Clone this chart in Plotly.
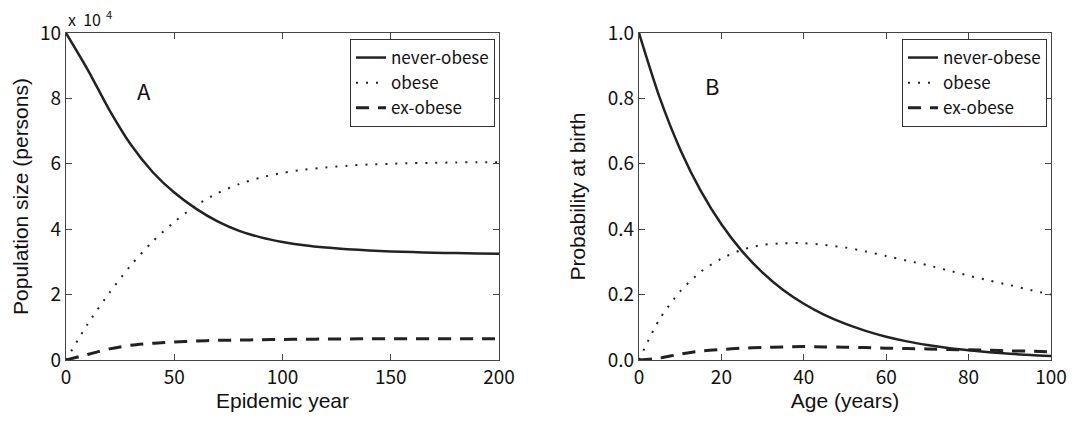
import plotly.graph_objects as go

# Panel A: population by obesity status over the epidemic (units of 10^4 persons)
epidemic_year = [0, 10, 20, 30, 40, 50, 60, 70, 80, 90, 100,
                 110, 120, 130, 140, 150, 160, 170, 180, 190, 200]
never_obese_pop = [10.0, 8.88, 7.65, 6.58, 5.75, 5.12, 4.63, 4.24, 3.95, 3.75, 3.61,
                   3.51, 3.44, 3.39, 3.35, 3.32, 3.3, 3.28, 3.27, 3.26, 3.25]
obese_pop = [0.0, 1.1, 2.05, 2.9, 3.62, 4.22, 4.72, 5.1, 5.38, 5.58, 5.72,
             5.82, 5.89, 5.94, 5.98, 6.0, 6.02, 6.03, 6.04, 6.05, 6.05]
ex_obese_pop = [0.0, 0.17, 0.34, 0.45, 0.51, 0.55, 0.58, 0.6, 0.61, 0.62, 0.63,
                0.635, 0.64, 0.645, 0.65, 0.65, 0.65, 0.65, 0.65, 0.65, 0.65]

# Panel B: probability of each status by age, at birth
age = [0, 5, 10, 15, 20, 25, 30, 35, 40, 45, 50, 55, 60, 65, 70, 75, 80, 85, 90, 95, 100]
never_obese_prob = [1.0, 0.803, 0.644, 0.517, 0.415, 0.333, 0.267, 0.214, 0.172, 0.138,
                    0.111, 0.089, 0.071, 0.057, 0.046, 0.037, 0.030, 0.024, 0.019,
                    0.015, 0.012]
obese_prob = [0.0, 0.125, 0.21, 0.27, 0.31, 0.337, 0.352, 0.357, 0.357, 0.352, 0.344,
              0.332, 0.318, 0.304, 0.29, 0.274, 0.258, 0.243, 0.229, 0.214, 0.2]
ex_obese_prob = [0.0, 0.006, 0.018, 0.027, 0.032, 0.036, 0.038, 0.04, 0.041, 0.04,
                 0.039, 0.038, 0.036, 0.035, 0.034, 0.032, 0.031, 0.03, 0.028, 0.027,
                 0.025]

series_names = ["never-obese", "obese", "ex-obese"]

INK = "#222222"
AXIS = "#444444"
TITLE_FONT = "Liberation Sans, Arial, sans-serif"
GOTHIC_FONT = "Noto Sans CJK JP, Liberation Sans, sans-serif"

styles = [
    dict(color=INK, width=2.5, dash="solid"),
    dict(color=INK, width=2, dash="2px,8px"),
    dict(color=INK, width=3, dash="13px,9px"),
]

fig = go.Figure()

for name, ys, st in zip(series_names, [never_obese_pop, obese_pop, ex_obese_pop], styles):
    fig.add_trace(go.Scatter(x=epidemic_year, y=ys, mode="lines", name=name,
                             line=dict(shape="spline", smoothing=0.8, **st),
                             xaxis="x", yaxis="y", legend="legend"))

for name, ys, st in zip(series_names, [never_obese_prob, obese_prob, ex_obese_prob], styles):
    fig.add_trace(go.Scatter(x=age, y=ys, mode="lines", name=name,
                             line=dict(shape="spline", smoothing=0.8, **st),
                             xaxis="x2", yaxis="y2", legend="legend2"))

W, H = 1088, 421
ydom = [1 - 360 / H, 1 - 33 / H]

axis_common = dict(
    showline=True, linecolor=AXIS, linewidth=1.3, mirror="allticks",
    ticks="inside", ticklen=6, tickcolor=AXIS, tickwidth=1,
    showgrid=False, zeroline=False, automargin=False,
    tickfont=dict(family=GOTHIC_FONT, size=19, color="#111"),
    title_font=dict(family=TITLE_FONT, size=21, color="#111"),
)

legend_common = dict(
    bgcolor="white", bordercolor="#333", borderwidth=1,
    font=dict(family=GOTHIC_FONT, size=17, color="#111"),
    xanchor="right", yanchor="top", tracegroupgap=0, itemwidth=30,
)

fig.update_layout(
    width=W, height=H,
    margin=dict(l=0, r=0, t=0, b=0),
    paper_bgcolor="white", plot_bgcolor="white",
    xaxis=dict(domain=[66 / W, 499 / W], range=[0, 200], tickvals=[0, 50, 100, 150, 200],
               title=dict(text="Epidemic year", standoff=5), anchor="y", **axis_common),
    yaxis=dict(domain=ydom, range=[0, 10], tickvals=[0, 2, 4, 6, 8, 10],
               title=dict(text="Population size (persons)", standoff=5), anchor="x",
               **axis_common),
    xaxis2=dict(domain=[639 / W, 1051 / W], range=[0, 100], tickvals=[0, 20, 40, 60, 80, 100],
                title=dict(text="Age (years)", standoff=5), anchor="y2", **axis_common),
    yaxis2=dict(domain=ydom, range=[0, 1], tickvals=[0, 0.2, 0.4, 0.6, 0.8, 1.0],
                tickformat=".1f", title=dict(text="Probability at birth", standoff=16),
                anchor="x2", **axis_common),
    legend=dict(x=495 / W, y=1 - 39 / H, **legend_common),
    legend2=dict(x=1047 / W, y=1 - 39 / H, **legend_common),
    showlegend=True,
)

fig.add_annotation(text="A", xref="x domain", yref="y domain", x=0.16, y=0.88,
                   showarrow=False, font=dict(family=GOTHIC_FONT, size=22, color="#111"))
fig.add_annotation(text="B", xref="x2 domain", yref="y2 domain", x=0.155, y=0.895,
                   showarrow=False, font=dict(family=GOTHIC_FONT, size=22, color="#111"))
fig.add_annotation(text="x  10<sup>  4</sup>", xref="x domain", yref="y domain",
                   x=0.0, y=1.0, xanchor="left", yanchor="bottom", showarrow=False,
                   font=dict(family=GOTHIC_FONT, size=16, color="#111"))

fig.write_html("out.html")
